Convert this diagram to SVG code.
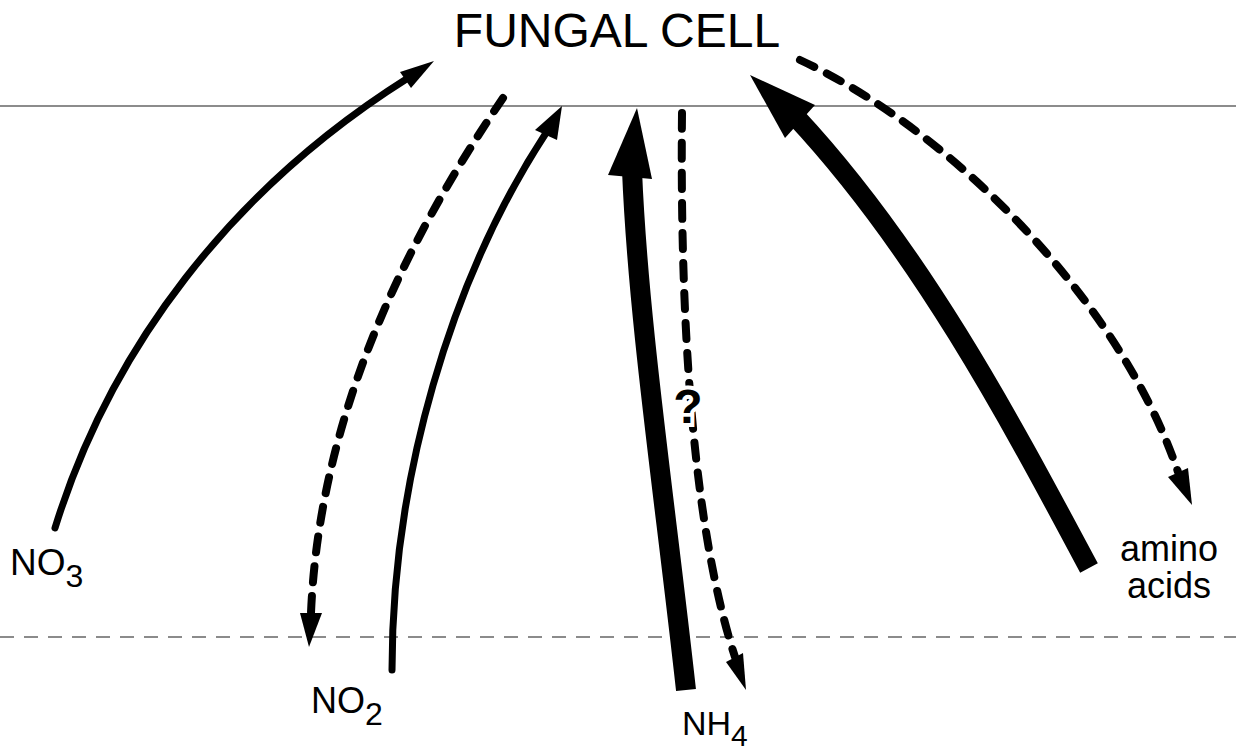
<svg xmlns="http://www.w3.org/2000/svg" width="1236" height="753" viewBox="0 0 1236 753">
<style>
.lbl{font-family:"Liberation Sans",Arial,sans-serif;fill:#000}
.solid{fill:none;stroke:#000;stroke-linecap:round}
.thick{fill:none;stroke:#000;stroke-width:20;stroke-linecap:butt}
.dash{fill:none;stroke:#000;stroke-width:8;stroke-linecap:round;stroke-dasharray:16 14}
.head{fill:#000}
.guide{stroke:#666;stroke-width:1.3;fill:none}
</style>
<rect width="1236" height="753" fill="#fff"/>
<g id="boundary">
<line class="guide" x1="0" y1="106" x2="1236" y2="106"/>
<line class="guide" x1="0" y1="637" x2="1236" y2="637" stroke-dasharray="14 10" stroke="#999"/>
</g>
<g id="fungal-cell"><text class="lbl" x="617" y="47" font-size="48" text-anchor="middle">FUNGAL CELL</text></g>
<g id="no3"><text class="lbl" x="10" y="575" font-size="37">NO<tspan font-size="32" dy="12">3</tspan></text></g>
<g id="no2"><text class="lbl" x="311" y="713" font-size="36">NO<tspan font-size="32" dy="12">2</tspan></text></g>
<g id="nh4"><text class="lbl" x="682" y="735" font-size="34">NH<tspan font-size="30" dy="11">4</tspan></text></g>
<g id="amino-acids"><text class="lbl" x="1169" y="561" font-size="36" text-anchor="middle">amino</text><text class="lbl" x="1169" y="598" font-size="36" text-anchor="middle">acids</text></g>
<g id="connectors">
<path class="solid" stroke-width="7" d="M55,528 C110,350 230,190 408,78"/>
<polygon class="head" points="434,61 400,72 411,88"/>
<path class="dash" d="M503,98 C420,220 320,400 311,613"/>
<polygon class="head" points="309,647 300,613 322,613"/>
<path class="solid" stroke-width="7" d="M392,670 C392,480 450,280 546,133"/>
<polygon class="head" points="562,106 535,130 557,140"/>
<path class="thick" d="M686,690 C665,500 638,320 632,170"/>
<polygon class="head" points="637,108 608,175 652,179"/>
<path class="dash" d="M682,113 C680,300 690,520 735,657"/>
<polygon class="head" points="746,690 726,662 743,653"/>
<path class="thick" d="M1089,568 C1010,420 920,250 795,116"/>
<polygon class="head" points="750,75 785,138 815,105"/>
<path class="dash" d="M800,60 C950,130 1120,300 1178,472"/>
<polygon class="head" points="1192,505 1168,477 1188,468"/>
<text class="lbl" x="688" y="423" font-size="48" font-weight="bold" text-anchor="middle" stroke="#fff" stroke-width="8" paint-order="stroke">?</text>
</g>
</svg>
